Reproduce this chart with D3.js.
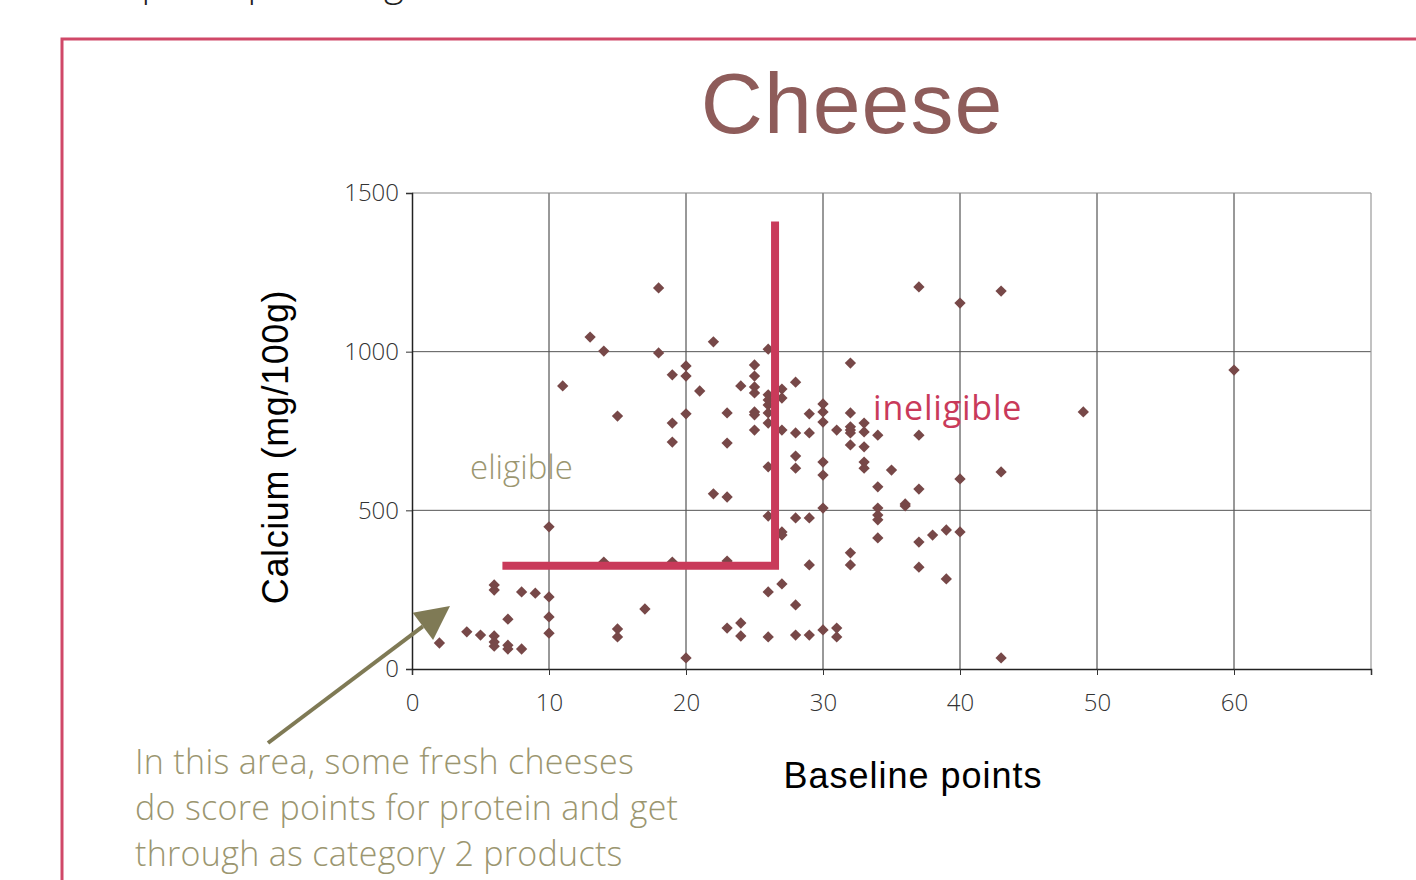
<!DOCTYPE html>
<html>
<head>
<meta charset="utf-8">
<script src="https://cdn.jsdelivr.net/npm/d3@7/dist/d3.min.js"></script>
<style>
  body { margin: 0; background: #fff; overflow: hidden; }
  svg { display: block; }
</style>
</head>
<body>
<div id="chart"></div>
<script>
// baseline points per cheese, grouped by x value
const xValues = [2, 4, 5, 6, 7, 8, 9, 10, 11, 13, 14, 15, 17, 18, 19, 20, 21, 22, 23, 24, 25, 26, 27, 28, 29, 30, 31, 32, 33, 34, 35, 36, 37, 38, 39, 40, 43, 49, 60];
// calcium (mg/100g) for each x value above
const calciumValues = [
  [82],
  [117],
  [107],
  [265, 249, 104, 85, 72],
  [157, 75, 63],
  [243, 63],
  [239],
  [448, 227, 164, 113],
  [892],
  [1046],
  [1002, 337],
  [797, 126, 101],
  [189],
  [1201, 996],
  [927, 775, 715, 337],
  [955, 923, 804, 35],
  [876],
  [1031, 552],
  [807, 712, 542, 340, 129],
  [892, 145, 104],
  [958, 923, 889, 870, 810, 801, 753],
  [1008, 864, 848, 832, 807, 775, 637, 482, 243, 101],
  [882, 854, 753, 432, 422, 268],
  [904, 744, 671, 633, 476, 202, 107],
  [804, 744, 476, 328, 107],
  [835, 810, 778, 652, 611, 507, 123],
  [753, 129, 101],
  [964, 807, 763, 753, 744, 706, 366, 328],
  [775, 747, 700, 652, 633],
  [737, 574, 507, 485, 470, 413],
  [627],
  [520, 514],
  [1204, 737, 567, 400, 321],
  [422],
  [438, 284],
  [1153, 599, 432],
  [1191, 621, 35],
  [810],
  [942]
];
const xTicks = [0, 10, 20, 30, 40, 50, 60, 70];
const yTicks = [0, 500, 1000, 1500];
// eligibility boundary (baseline points, calcium)
const boundary = [[6.6, 325], [26.5, 325], [26.5, 1410]];
const noteLines = [
  'In this area, some fresh cheeses',
  'do score points for protein and get',
  'through as category 2 products'
];

const points = [];
xValues.forEach((x, i) => {
  calciumValues[i].forEach(c => points.push({ x: x, y: c }));
});

const W = 1416, H = 880;
const svg = d3.select('#chart').append('svg')
  .attr('width', W)
  .attr('height', H);

const lightFont = '"Open Sans", "Liberation Sans", sans-serif';

// cut-off heading above the frame
svg.append('text')
  .attr('x', 48)
  .attr('y', -4)
  .style('font-family', lightFont)
  .style('font-weight', 300)
  .style('font-size', '38px')
  .style('fill', '#222')
  .text('Example: top scoring');

// frame
svg.append('rect')
  .attr('x', 62)
  .attr('y', 39)
  .attr('width', W)
  .attr('height', H)
  .style('fill', 'none')
  .style('stroke', '#d04868')
  .style('stroke-width', 3);

// title
svg.append('text')
  .attr('x', 852)
  .attr('y', 133)
  .attr('text-anchor', 'middle')
  .style('font-family', '"Liberation Sans", sans-serif')
  .style('font-size', '86px')
  .style('letter-spacing', '1px')
  .style('fill', '#8e5c5a')
  .text('Cheese');

const margin = { left: 412, top: 193, right: 1371, bottom: 669 };

const x = d3.scaleLinear().domain([0, 70]).range([margin.left, margin.right]);
const y = d3.scaleLinear().domain([0, 1500]).range([margin.bottom, margin.top]);

// grid
const grid = svg.append('g');
grid.selectAll('.vgrid')
  .data(xTicks.filter(d => d > 0 && d < 70))
  .enter().append('line')
  .attr('x1', d => x(d)).attr('x2', d => x(d))
  .attr('y1', y(1500)).attr('y2', y(0))
  .style('stroke', '#333').style('stroke-width', 1);
grid.selectAll('.hgrid')
  .data(yTicks.filter(d => d > 0 && d < 1500))
  .enter().append('line')
  .attr('x1', x(0)).attr('x2', x(70))
  .attr('y1', d => y(d)).attr('y2', d => y(d))
  .style('stroke', '#555').style('stroke-width', 1);

// plot border (top / right)
grid.append('line')
  .attr('x1', x(0)).attr('x2', x(70))
  .attr('y1', y(1500)).attr('y2', y(1500))
  .style('stroke', '#888').style('stroke-width', 1.2);
grid.append('line')
  .attr('x1', x(70)).attr('x2', x(70))
  .attr('y1', y(1500)).attr('y2', y(0))
  .style('stroke', '#999').style('stroke-width', 1.2);

// axes
const xAxis = svg.append('g')
  .attr('transform', `translate(0,${y(0)})`)
  .call(d3.axisBottom(x).tickValues(xTicks).tickSize(6).tickPadding(19)
    .tickFormat(d => d === 70 ? '' : d));
const yAxis = svg.append('g')
  .attr('transform', `translate(${x(0)},0)`)
  .call(d3.axisLeft(y).tickValues(yTicks).tickSize(6).tickPadding(7)
    .tickFormat(d3.format('d')));

[xAxis, yAxis].forEach(a => {
  a.select('.domain').style('stroke', '#222').style('stroke-width', 1.5);
  a.selectAll('.tick line').style('stroke', '#333');
  a.selectAll('text')
    .style('font-family', lightFont)
    .style('font-weight', 300)
    .style('font-size', '24px')
    .style('fill', '#333');
});

// points (diamonds)
const diamond = d3.symbol().type(d3.symbolSquare).size(64);
svg.append('g').selectAll('path')
  .data(points)
  .enter().append('path')
  .attr('d', diamond)
  .attr('transform', d => `translate(${x(d.x)},${y(d.y)}) rotate(45)`)
  .style('fill', '#774848');

// boundary
svg.append('path')
  .datum(boundary)
  .attr('d', d3.line().x(d => x(d[0])).y(d => y(d[1])))
  .style('fill', 'none')
  .style('stroke', '#c93a5a')
  .style('stroke-width', 8)
  .style('stroke-linejoin', 'miter');

// region labels
svg.append('text')
  .attr('x', 470).attr('y', 479)
  .style('font-family', lightFont)
  .style('font-weight', 300)
  .style('font-size', '33px')
  .style('fill', '#9b9670')
  .text('eligible');
svg.append('text')
  .attr('x', 873).attr('y', 420)
  .style('font-family', lightFont)
  .style('font-size', '34px')
  .style('letter-spacing', '0.8px')
  .style('fill', '#c93a5a')
  .text('ineligible');

// axis titles
svg.append('text')
  .attr('transform', 'translate(288,447) rotate(-90)')
  .attr('text-anchor', 'middle')
  .style('font-family', '"Liberation Sans", sans-serif')
  .style('font-size', '36px')
  .style('letter-spacing', '0.6px')
  .style('fill', '#000')
  .text('Calcium (mg/100g)');
svg.append('text')
  .attr('x', 913).attr('y', 788)
  .attr('text-anchor', 'middle')
  .style('font-family', '"Liberation Sans", sans-serif')
  .style('font-size', '36px')
  .style('letter-spacing', '1px')
  .style('fill', '#000')
  .text('Baseline points');

// arrow to the low-score area
const arrowStart = [268, 743], arrowEnd = [450, 606];
const ang = Math.atan2(arrowEnd[1] - arrowStart[1], arrowEnd[0] - arrowStart[0]);
const headLen = 34, headW = 17;
const base = [arrowEnd[0] - headLen * Math.cos(ang), arrowEnd[1] - headLen * Math.sin(ang)];
svg.append('line')
  .attr('x1', arrowStart[0]).attr('y1', arrowStart[1])
  .attr('x2', base[0]).attr('y2', base[1])
  .style('stroke', '#7f7a55').style('stroke-width', 4);
svg.append('path')
  .attr('d', `M${arrowEnd[0]},${arrowEnd[1]}` +
    `L${base[0] + headW * Math.sin(ang)},${base[1] - headW * Math.cos(ang)}` +
    `L${base[0] - headW * Math.sin(ang)},${base[1] + headW * Math.cos(ang)}Z`)
  .style('fill', '#7f7a55');

// note
svg.append('text')
  .style('font-family', lightFont)
  .style('font-weight', 300)
  .style('font-size', '34px')
  .style('letter-spacing', '0.3px')
  .style('fill', '#9b9670')
  .selectAll('tspan')
  .data(noteLines)
  .enter().append('tspan')
  .attr('x', 135)
  .attr('y', (d, i) => 774 + i * 46)
  .text(d => d);
</script>
</body>
</html>
